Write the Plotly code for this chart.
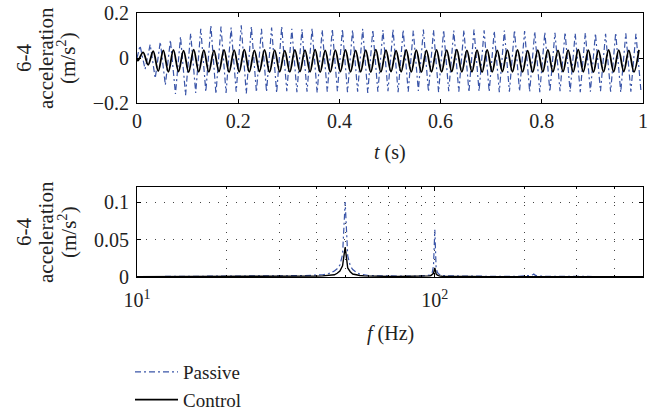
import plotly.graph_objects as go

# ---------------- data ----------------
# time-domain: per-cycle extremes (50 Hz cycles over 1 s)
ctrl_peak = [0.025, 0.030, 0.034, 0.036, 0.033, 0.037, 0.035, 0.034, 0.036, 0.035,
             0.037, 0.034, 0.036, 0.035, 0.033, 0.036, 0.035, 0.037, 0.034, 0.035,
             0.036, 0.034, 0.035, 0.037, 0.035, 0.033, 0.036, 0.035, 0.034, 0.036,
             0.035, 0.037, 0.034, 0.035, 0.036, 0.034, 0.035, 0.036, 0.033, 0.035,
             0.036, 0.034, 0.035, 0.037, 0.035, 0.034, 0.036, 0.035, 0.034, 0.036]
ctrl_trough = [-0.012, -0.030, -0.058, -0.062, -0.060, -0.063, -0.061, -0.062, -0.060, -0.063,
               -0.061, -0.062, -0.060, -0.063, -0.061, -0.062, -0.060, -0.061, -0.063, -0.062,
               -0.060, -0.062, -0.061, -0.063, -0.062, -0.060, -0.061, -0.062, -0.063, -0.061,
               -0.062, -0.060, -0.062, -0.061, -0.063, -0.062, -0.060, -0.061, -0.062, -0.063,
               -0.061, -0.062, -0.060, -0.062, -0.061, -0.063, -0.062, -0.061, -0.060, -0.062]
pas_peak = [0.055, 0.060, 0.072, 0.080, 0.095, 0.110, 0.130, 0.145, 0.140, 0.135,
            0.145, 0.140, 0.130, 0.135, 0.140, 0.130, 0.128, 0.132, 0.125, 0.130,
            0.128, 0.125, 0.130, 0.126, 0.124, 0.128, 0.125, 0.122, 0.126, 0.124,
            0.125, 0.122, 0.124, 0.126, 0.123, 0.120, 0.122, 0.124, 0.120, 0.118,
            0.115, 0.112, 0.114, 0.110, 0.112, 0.110, 0.108, 0.112, 0.110, 0.108]
pas_trough = [-0.050, -0.090, -0.120, -0.160, -0.165, -0.155, -0.150, -0.160, -0.155, -0.150,
              -0.158, -0.152, -0.150, -0.155, -0.148, -0.152, -0.150, -0.155, -0.150, -0.148,
              -0.152, -0.150, -0.155, -0.150, -0.148, -0.152, -0.150, -0.146, -0.150, -0.152,
              -0.148, -0.150, -0.152, -0.148, -0.150, -0.152, -0.150, -0.148, -0.150, -0.152,
              -0.150, -0.148, -0.150, -0.152, -0.150, -0.148, -0.150, -0.152, -0.150, -0.148]

# frequency-domain
freq = [10, 12, 15, 18, 20, 23, 26, 30, 33, 36, 40, 42, 44, 45, 46, 47, 48, 49, 50, 51,
        52, 53, 54, 55, 56, 58, 60, 65, 70, 75, 80, 85, 90, 94, 96, 97, 98, 99, 100, 101,
        102, 103, 104, 106, 110, 120, 130, 150, 170, 190, 200, 205, 210, 213, 215, 217,
        220, 230, 260, 300, 350, 400, 450, 500]
pas_amp = [0.0005, 0.0006, 0.0006, 0.0008, 0.0008, 0.0010, 0.0010, 0.0012, 0.0015, 0.0018,
           0.0025, 0.0030, 0.0045, 0.0060, 0.0080, 0.0110, 0.0160, 0.0300, 0.1000, 0.0280,
           0.0150, 0.0100, 0.0070, 0.0050, 0.0040, 0.0030, 0.0020, 0.0015, 0.0012, 0.0010,
           0.0010, 0.0012, 0.0015, 0.0018, 0.0025, 0.0040, 0.0060, 0.0150, 0.0630, 0.0120,
           0.0060, 0.0040, 0.0030, 0.0020, 0.0015, 0.0012, 0.0010, 0.0008, 0.0008, 0.0010,
           0.0012, 0.0015, 0.0020, 0.0030, 0.0040, 0.0025, 0.0015, 0.0010, 0.0008, 0.0006,
           0.0005, 0.0005, 0.0004, 0.0004]
ctrl_amp = [0.0004, 0.0004, 0.0005, 0.0005, 0.0006, 0.0006, 0.0007, 0.0008, 0.0009, 0.0010,
            0.0012, 0.0015, 0.0020, 0.0025, 0.0030, 0.0050, 0.0080, 0.0150, 0.0400, 0.0120,
            0.0070, 0.0040, 0.0030, 0.0025, 0.0020, 0.0015, 0.0012, 0.0010, 0.0008, 0.0007,
            0.0007, 0.0008, 0.0010, 0.0012, 0.0015, 0.0020, 0.0030, 0.0050, 0.0120, 0.0040,
            0.0025, 0.0018, 0.0012, 0.0010, 0.0008, 0.0007, 0.0006, 0.0005, 0.0005, 0.0005,
            0.0006, 0.0006, 0.0007, 0.0008, 0.0009, 0.0008, 0.0006, 0.0005, 0.0005, 0.0004,
            0.0004, 0.0004, 0.0003, 0.0003]

legend_names = ["Passive", "Control"]
t_ticks = [0, 0.2, 0.4, 0.6, 0.8, 1]
t_labels = ["0", "0.2", "0.4", "0.6", "0.8", "1"]
f_major = [10, 100]
f_major_labels = ["10<sup>1</sup>", "10<sup>2</sup>"]
f_minor = [20, 30, 40, 50, 60, 70, 80, 90, 200, 300, 400]

# ---------------- build series ----------------
period = 0.02
t_ctrl, y_ctrl = [0.0], [0.0]
for k in range(len(ctrl_peak)):
    t_ctrl += [k * period + 0.002, k * period + 0.012]
    y_ctrl += [ctrl_trough[k], ctrl_peak[k]]
t_pas, y_pas = [0.0], [0.0]
for k in range(len(pas_peak)):
    t_pas += [k * period + 0.006, k * period + 0.016]
    y_pas += [pas_peak[k], pas_trough[k]]

W, H = 655, 415
def px(x):
    return x / W
def py(y):
    return 1 - y / H

FONT = "Liberation Serif"
TXT = "#222"
BLUE = "#3a55a8"
DASH = "6px,3px,2px,3px"
GRIDDASH = "1px,8px"

fig = go.Figure()
fig.add_trace(go.Scatter(x=t_pas, y=y_pas, mode="lines", name=legend_names[0],
                         line=dict(color=BLUE, width=1.2, dash=DASH),
                         xaxis="x", yaxis="y"))
fig.add_trace(go.Scatter(x=t_ctrl, y=y_ctrl, mode="lines", name=legend_names[1],
                         line=dict(color="black", width=1.8, shape="spline", smoothing=1),
                         xaxis="x", yaxis="y"))
fig.add_trace(go.Scatter(x=freq, y=pas_amp, mode="lines", name=legend_names[0],
                         line=dict(color=BLUE, width=1.2, dash=DASH),
                         xaxis="x2", yaxis="y2", showlegend=False))
fig.add_trace(go.Scatter(x=freq, y=ctrl_amp, mode="lines", name=legend_names[1],
                         line=dict(color="black", width=1.4),
                         xaxis="x2", yaxis="y2", showlegend=False))

axis_common = dict(showline=True, linecolor="black", linewidth=1, mirror="ticks",
                   ticks="inside", ticklen=4, tickcolor="black", zeroline=False,
                   automargin=False,
                   tickfont=dict(family=FONT, size=20, color=TXT))

fig.update_layout(
    width=W, height=H,
    margin=dict(l=0, r=0, t=0, b=0, autoexpand=False),
    paper_bgcolor="white", plot_bgcolor="white",
    font=dict(family=FONT, size=20, color=TXT),
    xaxis=dict(domain=[px(137), px(643)], range=[0, 1], tickvals=t_ticks,
               ticktext=t_labels, showgrid=False, anchor="y", **axis_common),
    yaxis=dict(domain=[py(103), py(13)], range=[-0.2, 0.2], tickvals=[-0.2, 0, 0.2],
               ticktext=["\u22120.2", "0", "0.2"], showgrid=False, anchor="x",
               ticklabelstandoff=3, **axis_common),
    xaxis2=dict(domain=[px(137), px(643)], type="log", range=[1, 2.699],
                tickvals=f_major, ticktext=f_major_labels,
                showgrid=True, gridcolor="#444", griddash=GRIDDASH, gridwidth=1,
                minor=dict(tickvals=f_minor, ticks="inside", ticklen=2, tickcolor="black",
                           showgrid=True, gridcolor="#444", griddash=GRIDDASH, gridwidth=1),
                ticklabelstandoff=5, anchor="y2", **axis_common),
    yaxis2=dict(domain=[py(277), py(187)], range=[0, 0.12], tickvals=[0, 0.05, 0.1],
                ticktext=["0", "0.05", "0.1"], showgrid=True, gridcolor="#444",
                griddash=GRIDDASH, gridwidth=1, anchor="x2", ticklabelstandoff=3,
                **axis_common),
    legend=dict(x=px(130), y=py(353), xanchor="left", yanchor="top",
                font=dict(family=FONT, size=19, color=TXT), bgcolor="rgba(0,0,0,0)",
                itemwidth=43, tracegroupgap=0),
    showlegend=True,
)

ann = []
for cy in (58, 232):
    for cx, txt in ((24, "6-4"), (46, "acceleration"), (67, "(m/s<sup>2</sup>)")):
        ann.append(dict(x=px(cx), y=py(cy), xref="paper", yref="paper", text=txt,
                        textangle=-90, showarrow=False, xanchor="center", yanchor="middle",
                        font=dict(family=FONT, size=21, color=TXT)))
ann.append(dict(x=px(390), y=py(152), xref="paper", yref="paper", text="<i>t</i> (s)",
                showarrow=False, xanchor="center", yanchor="middle",
                font=dict(family=FONT, size=20, color=TXT)))
ann.append(dict(x=px(390), y=py(333), xref="paper", yref="paper", text="<i>f</i> (Hz)",
                showarrow=False, xanchor="center", yanchor="middle",
                font=dict(family=FONT, size=20, color=TXT)))
fig.update_layout(annotations=ann)

fig.write_html("out.html")
